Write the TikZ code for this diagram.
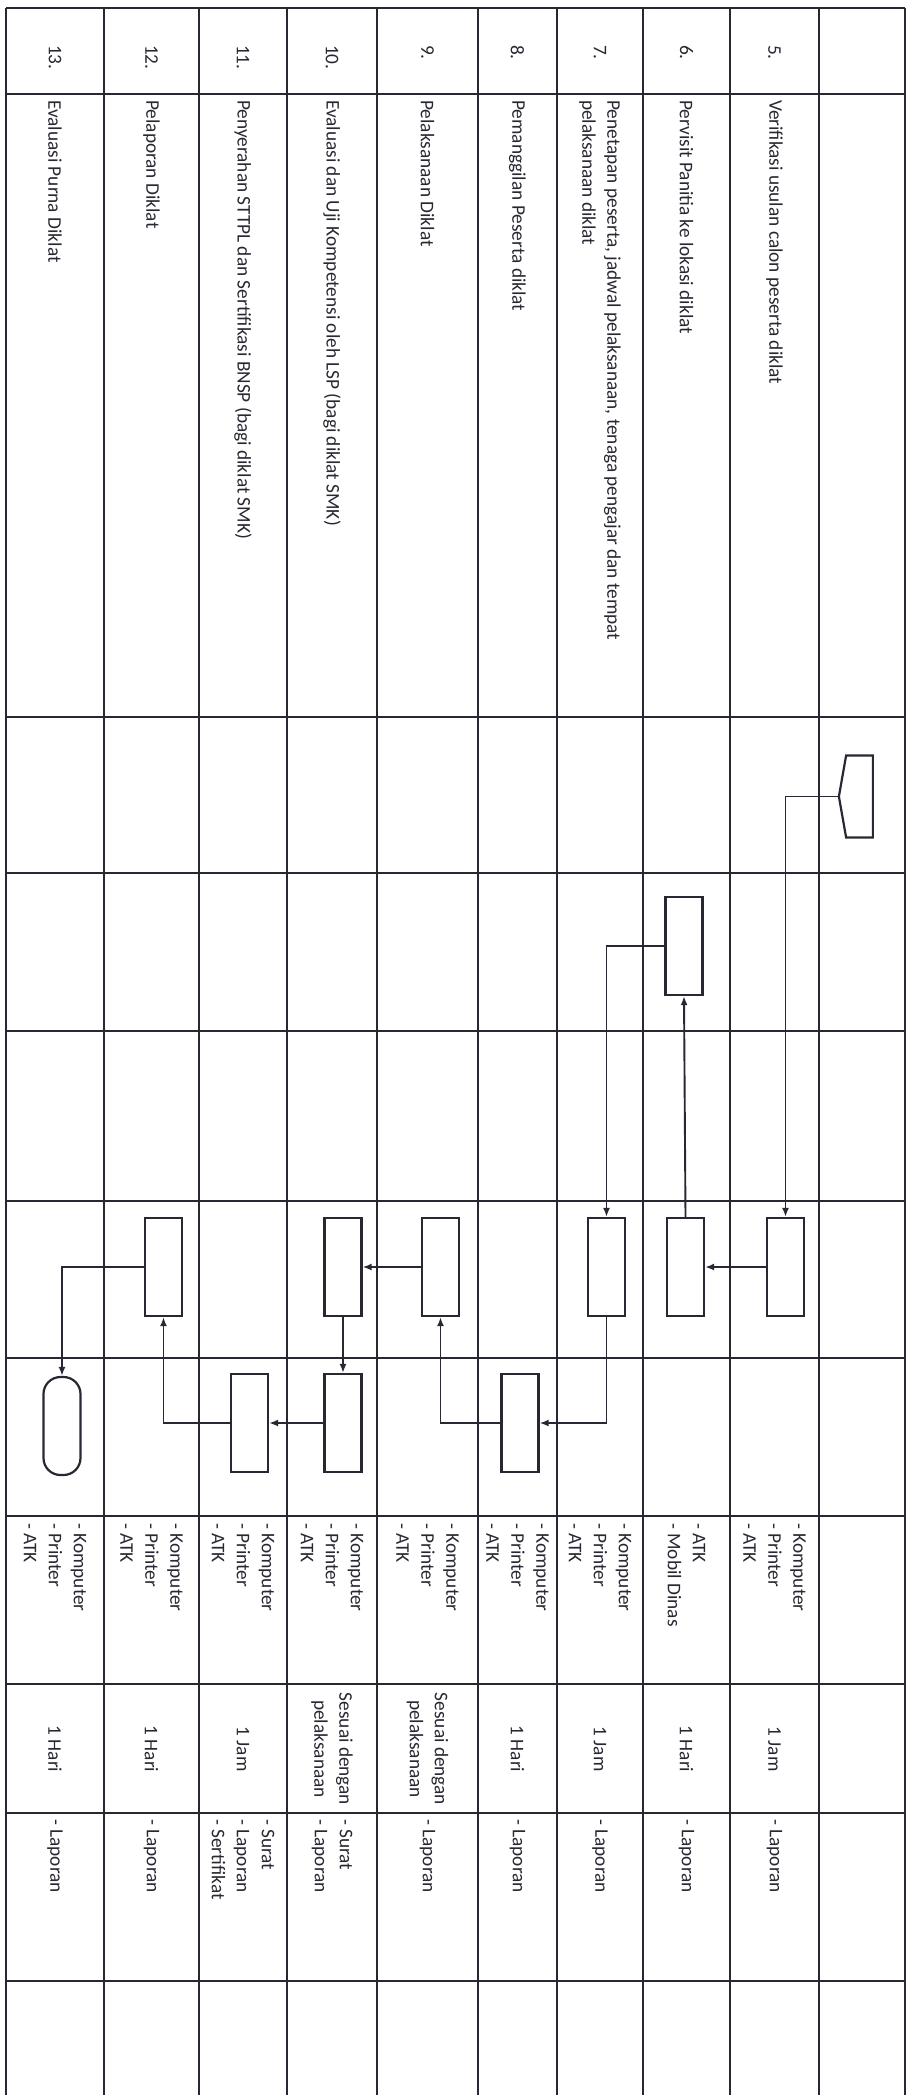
\documentclass[tikz,border=0pt]{standalone}
\usepackage{fontspec}
\setmainfont{Carlito}
\usetikzlibrary{arrows.meta,positioning,shapes.symbols}
\newcommand{\cellfont}{\fontsize{19.3}{25}\selectfont}
\definecolor{ink}{RGB}{40,40,50}

\begin{document}
\begin{tikzpicture}[x=1pt,y=-1pt,>={Latex[length=9pt,width=7pt]},
  grid/.style={draw=ink,line width=1.5pt},
  txt/.style={rotate=-90,font=\cellfont,text=ink,inner sep=0pt},
  lft/.style={txt,anchor=west,align=left},
  mid/.style={txt,anchor=center,align=center},
  proc/.style={draw=ink,line width=2.2pt,minimum width=37pt,minimum height=98pt,inner sep=0pt},
  term/.style={proc,rounded corners=17pt},
  conn/.style={signal,signal to=west,signal pointer angle=160,draw=ink,line width=2.2pt,minimum width=34pt,minimum height=82pt,inner sep=0pt},
  flow/.style={draw=ink,line width=1.9pt,->}]
\useasboundingbox[fill=white] (0,0) rectangle (923,2095);

\foreach \y in {8,94,717,873,1031,1201,1358,1516,1684,1813,1981}
  \draw[grid] (6,\y) -- (905,\y);
\foreach \x in {6,104,199,287,377,478,557,643,730,819,905}
  \draw[grid] (\x,8) -- (\x,2095);

\node[lft] (n5) at (774.5,45) {5.};
\node[lft] (n6) at (686.5,45) {6.};
\node[lft] (n7) at (600,45) {7.};
\node[lft] (n8) at (517.5,45) {8.};
\node[lft] (n9) at (427.5,45) {9.};
\node[lft] (n10) at (332,45) {10.};
\node[lft] (n11) at (243,45) {11.};
\node[lft] (n12) at (151.5,45) {12.};
\node[lft] (n13) at (55,45) {13.};

\node[lft] (t5) at (774.5,100) {Verifikasi usulan calon peserta diklat};
\node[lft] (t6) at (686.5,100) {Pervisit Panitia ke lokasi diklat};
\node[lft] (t7) at (600,100) {Penetapan peserta, jadwal pelaksanaan, tenaga pengajar dan tempat\\pelaksanaan diklat};
\node[lft] (t8) at (517.5,100) {Pemanggilan Peserta diklat};
\node[lft] (t9) at (427.5,100) {Pelaksanaan Diklat};
\node[lft] (t10) at (332,100) {Evaluasi dan Uji Kompetensi oleh LSP (bagi diklat SMK)};
\node[lft] (t11) at (243,100) {Penyerahan STTPL dan Sertifikasi BNSP (bagi diklat SMK)};
\node[lft] (t12) at (151.5,100) {Pelaporan Diklat};
\node[lft] (t13) at (55,100) {Evaluasi Purna Diklat};

\node[conn] (c4) at (859.5,796.5) {};
\node[proc] (b6t) at (684,946) {};
\node[proc] (b5) at (785.5,1267) {};
\node[proc] (b6) at (685.5,1267) {};
\node[proc] (b7) at (606.5,1267) {};
\node[proc] (b9) at (440.5,1267) {};
\node[proc] (b10) at (343,1267) {};
\node[proc] (b12) at (163.5,1267) {};
\node[proc] (b8) at (520,1423) {};
\node[proc] (b10b) at (343,1423) {};
\node[proc] (b11) at (249.5,1423) {};
\node[term] (e13) at (62,1426) {};

\draw[flow] (c4.west) -| (b5.north);
\draw[flow] (b5.west) -- (b6.east);
\draw[flow] (b6.north) -- (b6t.south);
\draw[flow] (b6t.west) -| (b7.north);
\draw[flow] (b7.south) |- (b8.east);
\draw[flow] (b8.west) -| (b9.south);
\draw[flow] (b9.west) -- (b10.east);
\draw[flow] (b10.south) -- (b10b.north);
\draw[flow] (b10b.west) -- (b11.east);
\draw[flow] (b11.west) -| (b12.south);
\draw[flow] (b12.west) -| (e13.north);

\node[lft] (r5) at (774.5,1523) {- Komputer\\- Printer\\- ATK};
\node[lft] (r6) at (686.5,1523) {- ATK\\- Mobil Dinas};
\node[lft] (r7) at (600,1523) {- Komputer\\- Printer\\- ATK};
\node[lft] (r8) at (517.5,1523) {- Komputer\\- Printer\\- ATK};
\node[lft] (r9) at (427.5,1523) {- Komputer\\- Printer\\- ATK};
\node[lft] (r10) at (332,1523) {- Komputer\\- Printer\\- ATK};
\node[lft] (r11) at (243,1523) {- Komputer\\- Printer\\- ATK};
\node[lft] (r12) at (151.5,1523) {- Komputer\\- Printer\\- ATK};
\node[lft] (r13) at (55,1523) {- Komputer\\- Printer\\- ATK};

\node[mid] (w5) at (774.5,1749) {1 Jam};
\node[mid] (w6) at (686.5,1749) {1 Hari};
\node[mid] (w7) at (600,1749) {1 Jam};
\node[mid] (w8) at (517.5,1749) {1 Hari};
\node[mid] (w9) at (427.5,1749) {Sesuai dengan\\pelaksanaan};
\node[mid] (w10) at (332,1749) {Sesuai dengan\\pelaksanaan};
\node[mid] (w11) at (243,1749) {1 Jam};
\node[mid] (w12) at (151.5,1749) {1 Hari};
\node[mid] (w13) at (55,1749) {1 Hari};

\node[lft] (o5) at (774.5,1819) {- Laporan};
\node[lft] (o6) at (686.5,1819) {- Laporan};
\node[lft] (o7) at (600,1819) {- Laporan};
\node[lft] (o8) at (517.5,1819) {- Laporan};
\node[lft] (o9) at (427.5,1819) {- Laporan};
\node[lft] (o10) at (332,1819) {- Surat\\- Laporan};
\node[lft] (o11) at (243,1819) {- Surat\\- Laporan\\- Sertifikat};
\node[lft] (o12) at (151.5,1819) {- Laporan};
\node[lft] (o13) at (55,1819) {- Laporan};
\end{tikzpicture}
\end{document}
